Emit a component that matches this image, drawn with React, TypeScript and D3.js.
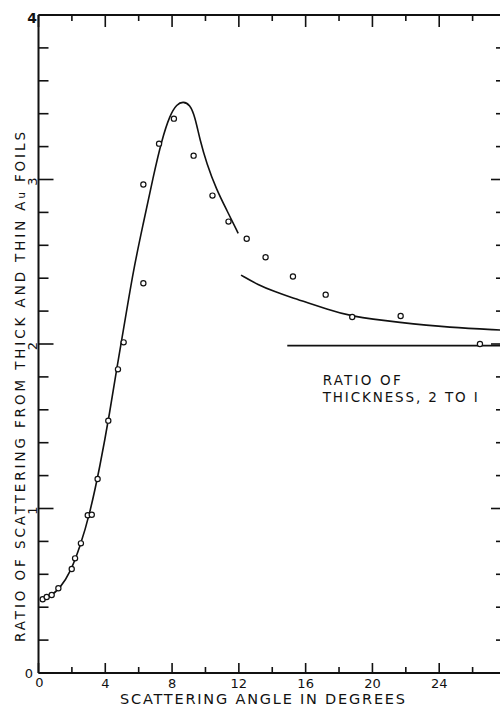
import React from 'react';
import * as d3 from 'd3';

// ---- data ----
const xMajorTicks = [0, 4, 8, 12, 16, 20, 24, 28];
const xMinorTicks = [2, 6, 10, 14, 18, 22, 26];
const xTickLabels = ['0', '4', '8', '12', '16', '20', '24'];
const xLabelValues = [0, 4, 8, 12, 16, 20, 24];
const yMajorTicks = [0, 1, 2, 3, 4];
const yMinorTicks = [0.2, 0.4, 0.6, 0.8, 1.2, 1.4, 1.6, 1.8, 2.2, 2.4, 2.6, 2.8, 3.2, 3.4, 3.6, 3.8];
const yRotatedLabels = ['1', '2', '3'];
const yRotatedValues = [1, 2, 3];

const obsAngle = [0.25, 0.49, 0.79, 1.19, 1.99, 2.19, 2.54, 2.95, 3.19, 3.54, 4.18, 4.76, 5.1, 6.28, 6.28, 7.22, 8.11, 9.29, 10.42, 11.38, 12.47, 13.6, 15.24, 17.2, 18.79, 21.69, 26.44];
const obsRatio = [0.448, 0.462, 0.474, 0.515, 0.632, 0.697, 0.788, 0.959, 0.962, 1.179, 1.534, 1.846, 2.01, 2.369, 2.97, 3.218, 3.37, 3.145, 2.902, 2.744, 2.64, 2.527, 2.41, 2.3, 2.164, 2.17, 2.0];

const fitAngle = [0.09, 0.69, 1.29, 1.89, 2.49, 3.08, 3.68, 4.28, 4.7, 5.08, 5.68, 6.28, 6.87, 7.38, 7.87, 8.28, 8.67, 9.07, 9.37, 9.67, 10.07, 10.67, 11.27, 11.96];
const fitRatio = [0.444, 0.464, 0.515, 0.608, 0.768, 0.971, 1.254, 1.59, 1.86, 2.08, 2.45, 2.734, 3.017, 3.24, 3.392, 3.458, 3.475, 3.455, 3.382, 3.24, 3.098, 2.936, 2.815, 2.673];

const theoryAngle = [12.13, 13.16, 14.16, 15.16, 16.16, 17.2, 18.65, 21.65, 24.64, 27.63, 28];
const theoryRatio = [2.419, 2.359, 2.318, 2.282, 2.25, 2.215, 2.168, 2.13, 2.1, 2.085, 2.083];

const refAngle = [14.9, 28];
const refRatio = [1.99, 1.99];

const FONT = '"DejaVu Sans", sans-serif';

export default function App() {
  const x = d3.scaleLinear().domain([0, 28]).range([38.5, 506]);
  const y = d3.scaleLinear().domain([0, 4]).range([673, 15]);

  const line = d3
    .line<[number, number]>()
    .x((d) => x(d[0]))
    .y((d) => y(d[1]))
    .curve(d3.curveBasis);
  const straight = d3
    .line<[number, number]>()
    .x((d) => x(d[0]))
    .y((d) => y(d[1]));

  const fitPts = fitAngle.map((a, i) => [a, fitRatio[i]] as [number, number]);
  const thPts = theoryAngle.map((a, i) => [a, theoryRatio[i]] as [number, number]);
  const refPts = refAngle.map((a, i) => [a, refRatio[i]] as [number, number]);

  const x0 = x(0);
  const x1 = x(28);
  const y0 = y(0);
  const y1 = y(4);

  return (
    <svg
      width={500}
      height={708}
      style={{ position: 'absolute', left: 0, top: 0, background: '#fff' }}
      fontFamily={FONT}
    >
      <rect x={0} y={0} width={500} height={708} fill="#fff" />
      {/* frame */}
      <g stroke="#111" strokeWidth={2} fill="none">
        <line x1={x0} y1={y0} x2={x1} y2={y0} />
        <line x1={x0} y1={y1} x2={x1} y2={y1} />
        <line x1={x0} y1={y0} x2={x0} y2={y1} />
        <line x1={x1} y1={y0} x2={x1} y2={y1} />
      </g>
      {/* ticks */}
      <g stroke="#111" strokeWidth={1.6}>
        {xMajorTicks.map((v) => (
          <g key={'xM' + v}>
            <line x1={x(v)} x2={x(v)} y1={y0} y2={y0 - 10} />
            <line x1={x(v)} x2={x(v)} y1={y1} y2={y1 + 12} />
          </g>
        ))}
        {xMinorTicks.map((v) => (
          <g key={'xm' + v}>
            <line x1={x(v)} x2={x(v)} y1={y0} y2={y0 - 6} />
            <line x1={x(v)} x2={x(v)} y1={y1} y2={y1 + 6} />
          </g>
        ))}
        {yMajorTicks.map((v) => (
          <g key={'yM' + v}>
            <line x1={x0} x2={x0 + 15} y1={y(v)} y2={y(v)} />
            <line x1={x1} x2={x1 - 15} y1={y(v)} y2={y(v)} />
          </g>
        ))}
        {yMinorTicks.map((v) => (
          <g key={'ym' + v}>
            <line x1={x0} x2={x0 + 10} y1={y(v)} y2={y(v)} />
            <line x1={x1} x2={x1 - 10} y1={y(v)} y2={y(v)} />
          </g>
        ))}
      </g>
      {/* x tick labels */}
      <g fontSize={13} fill="#111" textAnchor="middle">
        {xLabelValues.map((v, i) => (
          <text key={'xl' + v} x={i === 0 ? x(v) + 1 : x(v)} y={i === 0 ? 687 : 688}>
            {xTickLabels[i]}
          </text>
        ))}
        <text x={29} y={678}>0</text>
        <text x={32} y={22.5} fontSize={14} fontWeight="bold">4</text>
      </g>
      {/* rotated y tick labels */}
      <g fontSize={13} fill="#111" textAnchor="middle">
        {yRotatedValues.map((v, i) => (
          <text key={'yl' + v} transform={`translate(36.5,${y(v) + 2}) rotate(-90)`}>
            {yRotatedLabels[i]}
          </text>
        ))}
      </g>
      {/* axis titles */}
      <text
        x={262.5}
        y={704}
        fontSize={14.5}
        fill="#111"
        textAnchor="middle"
        textLength={285}
        lengthAdjust="spacing"
      >
        SCATTERING ANGLE IN DEGREES
      </text>
      <text
        transform="translate(25,387) rotate(-90)"
        fontSize={13.5}
        fill="#111"
        textAnchor="middle"
        textLength={510}
        lengthAdjust="spacing"
      >
        RATIO OF SCATTERING FROM THICK AND THIN A<tspan fontSize={10}>u</tspan> FOILS
      </text>
      {/* annotation */}
      <g fontSize={13.5} fill="#111">
        <text x={x(17.02)} y={y(1.75)} textLength={78} lengthAdjust="spacing">
          RATIO OF
        </text>
        <text x={x(17.02)} y={y(1.648)} textLength={155} lengthAdjust="spacing">
          THICKNESS, 2 TO I
        </text>
      </g>
      {/* curves */}
      <g fill="none" stroke="#111" strokeWidth={1.6}>
        <path d={line(fitPts) || ''} />
        <path d={line(thPts) || ''} />
        <path d={straight(refPts) || ''} />
      </g>
      {/* observations */}
      <g fill="#fff" stroke="#111" strokeWidth={1.2}>
        {obsAngle.map((a, i) => (
          <circle key={'o' + i} cx={x(a)} cy={y(obsRatio[i])} r={2.6} />
        ))}
      </g>
    </svg>
  );
}
